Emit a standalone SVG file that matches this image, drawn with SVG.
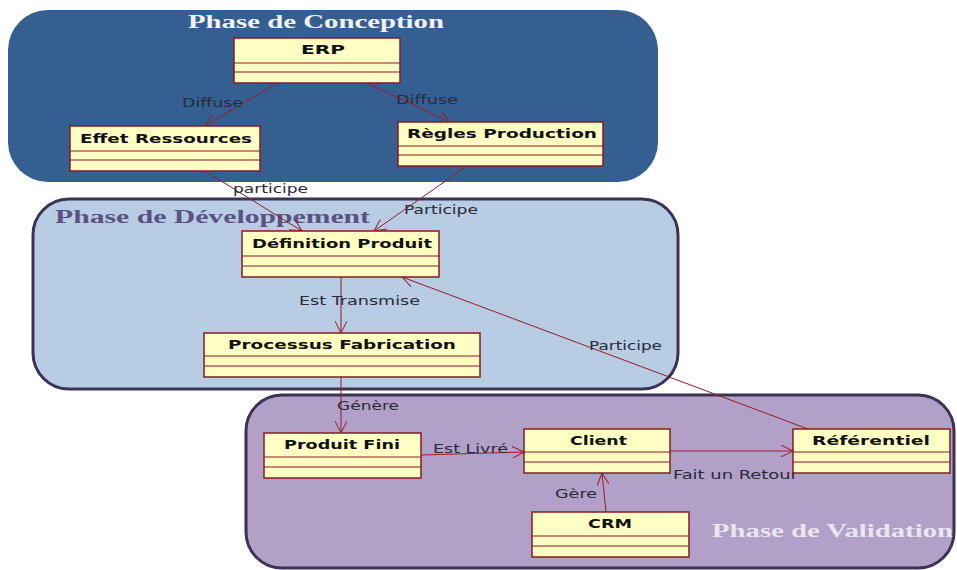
<svg xmlns="http://www.w3.org/2000/svg" width="957" height="570" viewBox="0 0 957 570">
<style>
.bg{fill:#ffffff}
.phase1{fill:#365f91}
.phase2{fill:#b8cce4;stroke:#3b3356;stroke-width:3}
.phase3{fill:#b1a0c7;stroke:#3b3356;stroke-width:3}
.ptitle{font-family:"Liberation Serif","DejaVu Serif",serif;font-weight:bold;font-size:18px}
.box{fill:#ffffc4;stroke:#8a1a22;stroke-width:1.5}
.div{stroke:#8a1a22;stroke-width:1.2}
.name{font-family:"DejaVu Sans","Liberation Sans",sans-serif;font-weight:bold;font-size:13px;fill:#111}
.lbl{font-family:"DejaVu Sans","Liberation Sans",sans-serif;font-size:12px;fill:#2a2a3a}
.conn{stroke:#9a1a2a;stroke-width:1;fill:none;marker-end:url(#arr)}
</style>
<defs>
<marker id="arr" markerWidth="14" markerHeight="12" refX="12" refY="6" orient="auto" markerUnits="userSpaceOnUse">
<path d="M0,0 L12,6 L0,12" fill="none" stroke="#9a1a2a" stroke-width="1"/>
</marker>
</defs>
<rect class="bg" x="0" y="0" width="957" height="570"/>

<g id="phase-conception">
<rect class="phase1" x="8" y="10" width="650" height="172" rx="40"/>
<text class="ptitle" x="188" y="28" fill="#f2f2f2" textLength="256" lengthAdjust="spacingAndGlyphs">Phase de Conception</text>
</g>
<g id="phase-developpement">
<rect class="phase2" x="33" y="199" width="645" height="190" rx="36"/>
<text class="ptitle" x="55" y="223" fill="#5b5283" textLength="315" lengthAdjust="spacingAndGlyphs">Phase de Développement</text>
</g>
<g id="phase-validation">
<rect class="phase3" x="246" y="395" width="708" height="173" rx="36"/>
<text class="ptitle" x="712" y="537" fill="#ece6f2" textLength="241" lengthAdjust="spacingAndGlyphs">Phase de Validation</text>
</g>

<g id="connectors">
<line class="conn" x1="277" y1="83" x2="205" y2="126"/>
<line class="conn" x1="367" y1="83" x2="450" y2="122"/>
<line class="conn" x1="205" y1="171" x2="302" y2="231"/>
<line class="conn" x1="467" y1="166" x2="374" y2="231"/>
<line class="conn" x1="341" y1="277" x2="341" y2="333"/>
<line class="conn" x1="341" y1="377" x2="341" y2="433"/>
<line class="conn" x1="421" y1="455" x2="524" y2="452"/>
<line class="conn" x1="670" y1="451" x2="793" y2="451"/>
<line class="conn" x1="606" y1="512" x2="602" y2="473"/>
<line class="conn" x1="808" y1="429" x2="402" y2="277"/>
<text class="lbl" x="182" y="107" textLength="61" lengthAdjust="spacingAndGlyphs">Diffuse</text>
<text class="lbl" x="396" y="104" textLength="62" lengthAdjust="spacingAndGlyphs">Diffuse</text>
<text class="lbl" x="233" y="193" textLength="75" lengthAdjust="spacingAndGlyphs">participe</text>
<text class="lbl" x="404" y="214" textLength="74" lengthAdjust="spacingAndGlyphs">Participe</text>
<text class="lbl" x="299" y="305" textLength="121" lengthAdjust="spacingAndGlyphs">Est Transmise</text>
<text class="lbl" x="589" y="350" textLength="73" lengthAdjust="spacingAndGlyphs">Participe</text>
<text class="lbl" x="337" y="410" textLength="62" lengthAdjust="spacingAndGlyphs">Génère</text>
<text class="lbl" x="433" y="453" textLength="75" lengthAdjust="spacingAndGlyphs">Est Livré</text>
<text class="lbl" x="555" y="498" textLength="42" lengthAdjust="spacingAndGlyphs">Gère</text>
<text class="lbl" x="673" y="479" textLength="125" lengthAdjust="spacingAndGlyphs">Fait un Retour</text>
</g>

<g id="erp">
<rect class="box" x="234" y="38" width="166" height="45"/>
<line class="div" x1="234" y1="63" x2="400" y2="63"/>
<line class="div" x1="234" y1="72" x2="400" y2="72"/>
<text class="name" x="301" y="54" textLength="44" lengthAdjust="spacingAndGlyphs">ERP</text>
</g>
<g id="effet-ressources">
<rect class="box" x="70" y="126" width="190" height="45"/>
<line class="div" x1="70" y1="151" x2="260" y2="151"/>
<line class="div" x1="70" y1="160" x2="260" y2="160"/>
<text class="name" x="80" y="143" textLength="172" lengthAdjust="spacingAndGlyphs">Effet Ressources</text>
</g>
<g id="regles-production">
<rect class="box" x="398" y="122" width="205" height="44"/>
<line class="div" x1="398" y1="146" x2="603" y2="146"/>
<line class="div" x1="398" y1="155" x2="603" y2="155"/>
<text class="name" x="407" y="138" textLength="190" lengthAdjust="spacingAndGlyphs">Règles Production</text>
</g>
<g id="definition-produit">
<rect class="box" x="242" y="231" width="197" height="46"/>
<line class="div" x1="242" y1="256" x2="439" y2="256"/>
<line class="div" x1="242" y1="266" x2="439" y2="266"/>
<text class="name" x="252" y="248" textLength="180" lengthAdjust="spacingAndGlyphs">Définition Produit</text>
</g>
<g id="processus-fabrication">
<rect class="box" x="204" y="333" width="276" height="44"/>
<line class="div" x1="204" y1="356" x2="480" y2="356"/>
<line class="div" x1="204" y1="366" x2="480" y2="366"/>
<text class="name" x="228" y="349" textLength="228" lengthAdjust="spacingAndGlyphs">Processus Fabrication</text>
</g>
<g id="produit-fini">
<rect class="box" x="264" y="433" width="157" height="45"/>
<line class="div" x1="264" y1="457" x2="421" y2="457"/>
<line class="div" x1="264" y1="467" x2="421" y2="467"/>
<text class="name" x="284" y="449" textLength="116" lengthAdjust="spacingAndGlyphs">Produit Fini</text>
</g>
<g id="client">
<rect class="box" x="524" y="429" width="146" height="44"/>
<line class="div" x1="524" y1="452" x2="670" y2="452"/>
<line class="div" x1="524" y1="462" x2="670" y2="462"/>
<text class="name" x="570" y="445" textLength="57" lengthAdjust="spacingAndGlyphs">Client</text>
</g>
<g id="referentiel">
<rect class="box" x="793" y="429" width="157" height="44"/>
<line class="div" x1="793" y1="452" x2="950" y2="452"/>
<line class="div" x1="793" y1="462" x2="950" y2="462"/>
<text class="name" x="812" y="445" textLength="118" lengthAdjust="spacingAndGlyphs">Référentiel</text>
</g>
<g id="crm">
<rect class="box" x="532" y="512" width="157" height="45"/>
<line class="div" x1="532" y1="536" x2="689" y2="536"/>
<line class="div" x1="532" y1="546" x2="689" y2="546"/>
<text class="name" x="588" y="528" textLength="44" lengthAdjust="spacingAndGlyphs">CRM</text>
</g>
</svg>
